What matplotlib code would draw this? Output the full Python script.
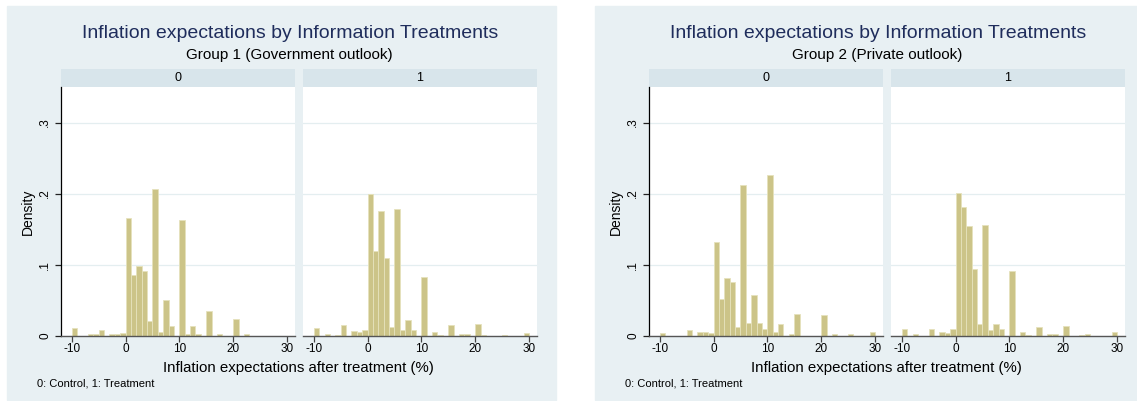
import matplotlib
matplotlib.use("Agg")
import matplotlib.pyplot as plt
import numpy as np
from matplotlib.patches import Rectangle

plt.rcParams["font.family"] = ["Liberation Sans", "DejaVu Sans"]

# bins of width 1 from -10 to 30
bin_start = -10
n_bins = 40

# densities per bin
g1_control = [0.011, 0, 0, 0.002, 0.002, 0.0075, 0, 0.002, 0.002, 0.004,
              0.166, 0.086, 0.098, 0.091, 0.021, 0.207, 0.005, 0.050, 0.014, 0,
              0.163, 0.002, 0.014, 0.002, 0, 0.035, 0, 0.002, 0, 0,
              0.023, 0, 0.002, 0, 0, 0, 0, 0, 0, 0]
g1_treat = [0.011, 0, 0.003, 0, 0.001, 0.0145, 0, 0.007, 0.005, 0.008,
            0.199, 0.1185, 0.175, 0.109, 0.012, 0.178, 0.008, 0.022, 0.008, 0,
            0.083, 0, 0.005, 0.001, 0, 0.015, 0, 0.002, 0.002, 0,
            0.0165, 0.001, 0, 0, 0, 0.001, 0, 0, 0, 0.004]
g2_control = [0.004, 0, 0, 0, 0, 0.0075, 0, 0.005, 0.005, 0.004,
              0.132, 0.0515, 0.081, 0.0755, 0.012, 0.212, 0.018, 0.057, 0.018, 0.010,
              0.226, 0.005, 0.016, 0, 0.002, 0.031, 0, 0, 0, 0,
              0.029, 0, 0.002, 0, 0, 0.002, 0, 0, 0, 0.0056]
g2_treat = [0.009, 0, 0.002, 0, 0, 0.009, 0, 0.005, 0.004, 0.010,
            0.201, 0.181, 0.154, 0.094, 0.016, 0.1555, 0.008, 0.017, 0.010, 0,
            0.091, 0, 0.005, 0.001, 0, 0.0126, 0, 0.002, 0.002, 0,
            0.0136, 0, 0, 0.001, 0.002, 0, 0, 0, 0, 0.005]

groups = [
    ("Group 1 (Government outlook)", g1_control, g1_treat),
    ("Group 2 (Private outlook)", g2_control, g2_treat),
]
panel_labels = ["0", "1"]
x_ticks = [-10, 0, 10, 20, 30]
y_ticks = [0, 0.1, 0.2, 0.3]
y_tick_labels = ["0", ".1", ".2", ".3"]

W, H = 1137, 401
BG = "#e8f0f3"
STRIP = "#d8e5eb"
GRID = "#e4eef0"
BAR = "#ccc488"
BAR_EDGE = "#e6e2bc"
TITLE = "#1f2d5c"

fig = plt.figure(figsize=(W / 100, H / 100), dpi=100)


def box(x0, y0, x1, y1):
    return [x0 / W, 1 - y1 / H, (x1 - x0) / W, (y1 - y0) / H]


def fx(x):
    return x / W


def fy(y):
    return 1 - y / H


edges = np.arange(bin_start, bin_start + n_bins + 1)

for gi, (subtitle, control, treat) in enumerate(groups):
    off = gi * 588
    fig.patches.append(Rectangle((fx(7 + off), fy(400)), 549 / W, 394 / H,
                                 transform=fig.transFigure, color=BG, zorder=-5))
    fig.text(fx(290 + off), fy(38), "Inflation expectations by Information Treatments",
             ha="center", va="baseline", fontsize=14, color=TITLE)
    fig.text(fx(289 + off), fy(58.5), subtitle, ha="center", va="baseline",
             fontsize=11, color="black")

    panels = [(61, 295, control), (303, 537, treat)]
    for pi, (x0, x1, dens) in enumerate(panels):
        # strip header
        sax = fig.add_axes(box(x0 + off, 69, x1 + off, 87))
        sax.set_facecolor(STRIP)
        sax.set_xticks([])
        sax.set_yticks([])
        for s in sax.spines.values():
            s.set_visible(False)
        sax.text(0.5, 0.5, panel_labels[pi], ha="center", va="center",
                 fontsize=9, transform=sax.transAxes)

        ax = fig.add_axes(box(x0 + off, 87, x1 + off, 335.7))
        ax.set_facecolor("white")
        ax.bar(edges[:-1], dens, width=1, align="edge", color=BAR,
               edgecolor=BAR_EDGE, linewidth=0.6, zorder=2)
        ax.set_xlim(-12, 31.5)
        ax.set_ylim(0, 0.35)
        ax.set_yticks(y_ticks)
        ax.grid(axis="y", color=GRID, linewidth=0.9, zorder=0)
        ax.set_xticks(x_ticks)
        ax.set_xticklabels([str(t) for t in x_ticks])
        ax.tick_params(axis="x", length=4, width=0.9, color="#444444",
                       labelsize=8.5, pad=1.5)
        for s in ["top", "right"]:
            ax.spines[s].set_visible(False)
        ax.spines["bottom"].set_color("#555555")
        ax.spines["bottom"].set_linewidth(1.0)
        if pi == 0:
            ax.spines["left"].set_color("black")
            ax.spines["left"].set_linewidth(0.9)
            ax.set_yticklabels(y_tick_labels, rotation=90, va="center")
            ax.tick_params(axis="y", length=4, width=0.9, color="#222222",
                           labelsize=8.5, pad=3)
            ax.set_ylabel("Density", fontsize=10, labelpad=3)
        else:
            ax.spines["left"].set_visible(False)
            ax.tick_params(axis="y", length=0, labelleft=False)

    fig.text(fx(298 + off), fy(368), "Inflation expectations after treatment (%)",
             ha="center", va="center", fontsize=10.8)
    fig.text(fx(37 + off), fy(383), "0: Control, 1: Treatment",
             ha="left", va="center", fontsize=8)

fig.savefig("out.png", dpi=100)
